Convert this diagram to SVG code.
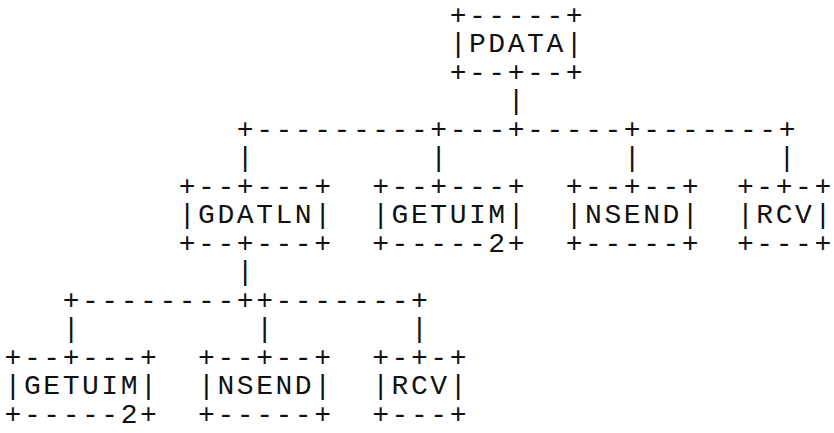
<svg xmlns="http://www.w3.org/2000/svg" width="834" height="433" viewBox="0 0 834 433">
<style>
.t{font-family:"Liberation Mono","DejaVu Sans Mono",monospace;font-size:28px;letter-spacing:2.55px;fill:#111;}
</style>
<rect width="834" height="433" fill="#fff"/>
<g id="connectors" class="t">
<text x="507.7" y="109">|</text>
<text x="236.8" y="137.5">+---------+---+-----+-------+</text>
<text x="236.8" y="166">|</text>
<text x="430.3" y="166">|</text>
<text x="623.8" y="166">|</text>
<text x="778.6" y="166">|</text>
<text x="236.8" y="280">|</text>
<text x="62.65" y="308.5">+--------++-------+</text>
<text x="62.65" y="337">|</text>
<text x="256.15" y="337">|</text>
<text x="410.95" y="337">|</text>
</g>
<g id="pdata" class="t">
<text x="449.65" y="23.5">+-----+</text>
<text x="449.65" y="52">|PDATA|</text>
<text x="449.65" y="80.5">+--+--+</text>
</g>
<g id="gdatln" class="t">
<text x="178.75" y="194.5">+--+---+</text>
<text x="178.75" y="223">|GDATLN|</text>
<text x="178.75" y="251.5">+--+---+</text>
</g>
<g id="getuim1" class="t">
<text x="372.25" y="194.5">+--+---+</text>
<text x="372.25" y="223">|GETUIM|</text>
<text x="372.25" y="251.5">+-----2+</text>
</g>
<g id="nsend1" class="t">
<text x="565.75" y="194.5">+--+--+</text>
<text x="565.75" y="223">|NSEND|</text>
<text x="565.75" y="251.5">+-----+</text>
</g>
<g id="rcv1" class="t">
<text x="737" y="194.5">+-+-+</text>
<text x="737" y="223">|RCV|</text>
<text x="737" y="251.5">+---+</text>
</g>
<g id="getuim2" class="t">
<text x="4.6" y="365.5">+--+---+</text>
<text x="4.6" y="394">|GETUIM|</text>
<text x="4.6" y="422.5">+-----2+</text>
</g>
<g id="nsend2" class="t">
<text x="198.1" y="365.5">+--+--+</text>
<text x="198.1" y="394">|NSEND|</text>
<text x="198.1" y="422.5">+-----+</text>
</g>
<g id="rcv2" class="t">
<text x="372.25" y="365.5">+-+-+</text>
<text x="372.25" y="394">|RCV|</text>
<text x="372.25" y="422.5">+---+</text>
</g>
</svg>
